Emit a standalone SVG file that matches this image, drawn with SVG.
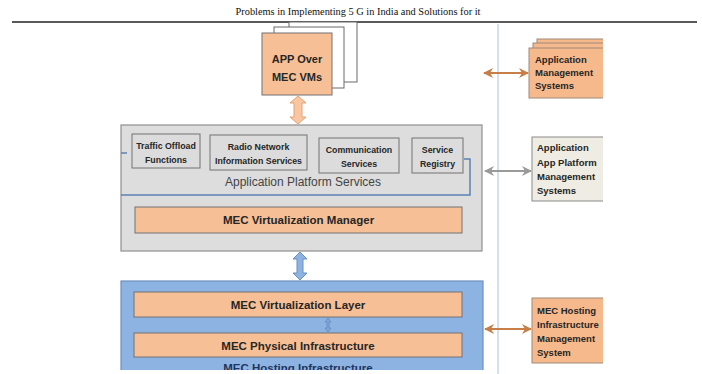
<svg xmlns="http://www.w3.org/2000/svg" width="702" height="374" viewBox="0 0 702 374">
<style>
.t{font-family:"Liberation Sans",Arial,sans-serif;font-weight:bold;fill:#262626}
.ctr{text-anchor:middle}
.svc{fill:#dcdcdc;stroke:#737373;stroke-width:1}
.org{fill:#f7bf95;stroke:#737373;stroke-width:1}
.rorg{fill:#f6b98c;stroke:#a08a7a;stroke-width:1}
.stk{fill:#ffffff;stroke:#6a6a6a;stroke-width:1}
</style>
<defs>
<marker id="ho" viewBox="0 0 10 10" refX="9" refY="5" markerWidth="5" markerHeight="5" orient="auto-start-reverse" markerUnits="strokeWidth"><path d="M0,0 L10,5 L0,10 L3,5 Z" fill="#c77f47"/></marker>
<marker id="hg" viewBox="0 0 10 10" refX="9" refY="5" markerWidth="5" markerHeight="5" orient="auto-start-reverse" markerUnits="strokeWidth"><path d="M0,0 L10,5 L0,10 L3,5 Z" fill="#9a9a9a"/></marker>
<clipPath id="rc"><rect x="480" y="0" width="123" height="374"/></clipPath>
<clipPath id="bc"><rect x="0" y="0" width="702" height="370"/></clipPath>
</defs>
<rect width="702" height="374" fill="#ffffff"/>

<g id="header">
<text x="358" y="15" font-family="Liberation Serif,'Times New Roman',serif" font-size="10.5" fill="#111" text-anchor="middle" textLength="245" lengthAdjust="spacingAndGlyphs">Problems in Implementing 5 G in India and Solutions for it</text>
<line x1="12" y1="22" x2="697" y2="22" stroke="#222" stroke-width="1.3"/>
</g>

<line id="divider" x1="498" y1="24" x2="498" y2="374" stroke="#c9d5e6" stroke-width="1.5"/>

<g id="app-vms">
<rect class="stk" x="289" y="22" width="68" height="60"/>
<rect class="stk" x="274" y="27" width="70" height="61"/>
<rect class="org" x="262" y="33" width="70" height="62"/>
<text class="t ctr" x="297" y="63" font-size="11">APP Over</text>
<text class="t ctr" x="297" y="81" font-size="11">MEC VMs</text>
</g>

<g id="platform">
<rect x="121" y="125" width="361" height="126" fill="#dddddd" stroke="#8f8f8f" stroke-width="1.2"/>
<path d="M121,153 H127 M464,159 H470 V195 H121" fill="none" stroke="#5b82b5" stroke-width="1.5"/>
<g id="traffic-offload">
<rect class="svc" x="132" y="134" width="68" height="34"/>
<text class="t ctr" x="166" y="149" font-size="8.8">Traffic Offload</text>
<text class="t ctr" x="166" y="163" font-size="8.8">Functions</text>
</g>
<g id="rnis">
<rect class="svc" x="210" y="135" width="97" height="35"/>
<text class="t ctr" x="258.5" y="150" font-size="8.8">Radio Network</text>
<text class="t ctr" x="258.5" y="164" font-size="8.8">Information Services</text>
</g>
<g id="communication">
<rect class="svc" x="319" y="138" width="80" height="35"/>
<text class="t ctr" x="359" y="153" font-size="8.8">Communication</text>
<text class="t ctr" x="359" y="167" font-size="8.8">Services</text>
</g>
<g id="registry">
<rect class="svc" x="412" y="138" width="51" height="35"/>
<text class="t ctr" x="437.5" y="153" font-size="8.8">Service</text>
<text class="t ctr" x="437.5" y="167" font-size="8.8">Registry</text>
</g>
<text x="303" y="186" font-family="'Liberation Sans',Arial,sans-serif" font-size="12" fill="#444" text-anchor="middle">Application Platform Services</text>
<g id="virt-manager">
<rect class="org" x="135" y="207" width="327" height="26"/>
<text class="t ctr" x="298.5" y="224" font-size="11.5">MEC Virtualization Manager</text>
</g>
</g>

<g id="hosting" clip-path="url(#bc)">
<rect x="121" y="281" width="362" height="95" fill="#8db3e2" stroke="#6e8fbd" stroke-width="1.2"/>
<g id="virt-layer">
<rect class="org" x="134" y="292" width="328" height="25"/>
<text class="t ctr" x="298" y="309" font-size="11.5">MEC Virtualization Layer</text>
</g>
<g id="phys-infra">
<rect class="org" x="134" y="333" width="328" height="24"/>
<text class="t ctr" x="298" y="350" font-size="11.5">MEC Physical Infrastructure</text>
</g>
<text x="298" y="372" font-family="'Liberation Sans',Arial,sans-serif" font-weight="bold" font-size="11.5" fill="#1f3560" text-anchor="middle">MEC Hosting Infrastructure</text>
</g>

<g id="right-panel" clip-path="url(#rc)">
<g id="app-mgmt">
<rect class="rorg" x="537" y="39" width="80" height="50"/>
<rect class="rorg" x="533" y="43" width="80" height="50"/>
<rect class="rorg" x="529" y="48" width="80" height="50"/>
<text class="t" x="535" y="63" font-size="9.5">Application</text>
<text class="t" x="535" y="76" font-size="9.5">Management</text>
<text class="t" x="535" y="89" font-size="9.5">Systems</text>
</g>
<g id="platform-mgmt">
<rect x="532" y="137" width="80" height="64" fill="#eeece3" stroke="#8a8a8a" stroke-width="1"/>
<text class="t" x="537" y="151" font-size="9.5">Application</text>
<text class="t" x="537" y="165.5" font-size="9.5">App Platform</text>
<text class="t" x="537" y="180" font-size="9.5">Management</text>
<text class="t" x="537" y="194" font-size="9.5">Systems</text>
</g>
<g id="hosting-mgmt">
<rect class="rorg" x="532" y="298" width="80" height="65"/>
<text class="t" x="537" y="313.5" font-size="9.5">MEC Hosting</text>
<text class="t" x="537" y="327.5" font-size="9.5">Infrastructure</text>
<text class="t" x="537" y="341.5" font-size="9.5">Management</text>
<text class="t" x="537" y="355.5" font-size="9.5">System</text>
</g>
</g>

<g id="connectors">
<path d="M298,96 L306,103 L302,103 L302,117 L306,117 L298,124 L290,117 L294,117 L294,103 L290,103 Z" fill="#f8c7a2" stroke="#e3a374" stroke-width="1"/>
<path d="M300,252 L307,259 L303,259 L303,273 L307,273 L300,280 L293,273 L297,273 L297,259 L293,259 Z" fill="#8db3e2" stroke="#6a8fc0" stroke-width="1"/>
<path d="M328,318 L331,322 L329,322 L329,328 L331,328 L328,332 L325,328 L327,328 L327,322 L325,322 Z" fill="#7fa6d8" stroke="#5e86bb" stroke-width="0.7"/>
<line x1="484" y1="73" x2="528" y2="73" stroke="#c77f47" stroke-width="2" marker-start="url(#ho)" marker-end="url(#ho)"/>
<line x1="485" y1="171" x2="531" y2="171" stroke="#9a9a9a" stroke-width="2" marker-start="url(#hg)" marker-end="url(#hg)"/>
<line x1="485" y1="329" x2="531" y2="329" stroke="#c77f47" stroke-width="2" marker-start="url(#ho)" marker-end="url(#ho)"/>
</g>
</svg>
